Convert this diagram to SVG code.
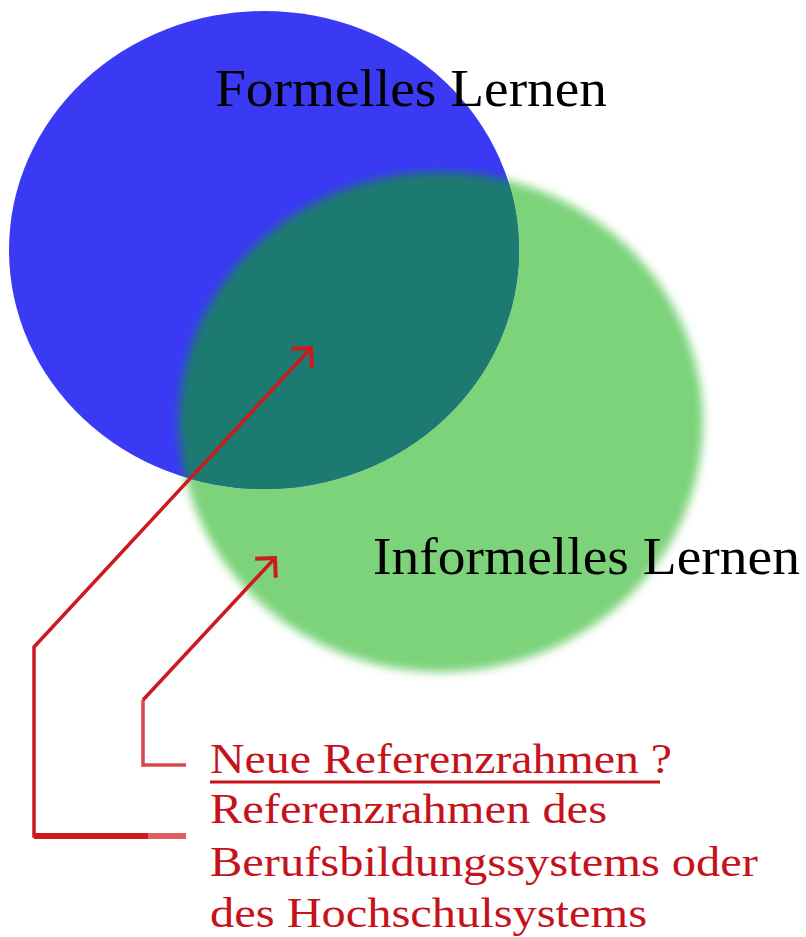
<svg xmlns="http://www.w3.org/2000/svg" width="806" height="937" viewBox="0 0 806 937">
  <style>
    .label { font-family: "Liberation Serif", "Times New Roman", serif; fill: #000000; font-size: 52px; }
    .caption { font-family: "Liberation Serif", "Times New Roman", serif; fill: #c5121b; font-size: 43px; }
    .conn { fill: none; stroke: #cc1a1f; stroke-width: 3.5; stroke-linejoin: miter; stroke-linecap: butt; }
    .conn-light { fill: none; stroke: #d9474c; stroke-width: 3.5; }
  </style>
  <defs>
    <filter id="soft" x="-10%" y="-10%" width="120%" height="120%">
      <feGaussianBlur stdDeviation="5"/>
    </filter>
    <clipPath id="blueClip">
      <ellipse cx="264" cy="250" rx="255" ry="239"/>
    </clipPath>
    <marker id="chev" markerUnits="userSpaceOnUse" markerWidth="40" markerHeight="40" refX="20" refY="20" orient="auto" viewBox="0 0 40 40">
      <path d="M6,6 L20,20 L6,34" fill="none" stroke="#cc1a1f" stroke-width="4" stroke-linejoin="miter"/>
    </marker>
  </defs>
  <rect x="0" y="0" width="806" height="937" fill="#ffffff"/>

  <g id="node-informelles">
    <ellipse cx="441" cy="422" rx="262" ry="250" fill="#7bd37a" filter="url(#soft)"/>
  </g>
  <g id="node-formelles">
    <ellipse cx="264" cy="250" rx="255" ry="239" fill="#3a3af5"/>
  </g>
  <g id="overlap">
    <g clip-path="url(#blueClip)">
      <ellipse cx="441" cy="422" rx="262" ry="250" fill="#1f7a70" filter="url(#soft)"/>
    </g>
  </g>
  <g id="label-formelles">
    <text class="label" x="215" y="106" textLength="392" lengthAdjust="spacingAndGlyphs">Formelles Lernen</text>
  </g>
  <g id="label-informelles">
    <text class="label" x="373" y="574" textLength="427" lengthAdjust="spacingAndGlyphs">Informelles Lernen</text>
  </g>

  <g id="connectors">
    <path class="conn" d="M186,836 L34,836 L34,647 L311,348" marker-end="url(#chev)" stroke-width="4"/>
    <line x1="34" y1="836" x2="148" y2="836" stroke="#cc1a1f" stroke-width="6"/>
    <line x1="148" y1="836" x2="186" y2="836" stroke="#dc6064" stroke-width="6"/>
    <path class="conn-light" d="M186,765 L143,765 L143,700"/>
    <path class="conn" d="M143,700 L275,558" marker-end="url(#chev)"/>
  </g>

  <g id="caption">
    <text class="caption" x="210" y="773" textLength="462" lengthAdjust="spacingAndGlyphs">Neue Referenzrahmen ?</text>
    <line x1="210" y1="782" x2="660" y2="782" stroke="#c5121b" stroke-width="3"/>
    <text class="caption" x="210" y="823" textLength="397" lengthAdjust="spacingAndGlyphs">Referenzrahmen des</text>
    <text class="caption" x="210" y="876" textLength="548" lengthAdjust="spacingAndGlyphs">Berufsbildungssystems oder</text>
    <text class="caption" x="210" y="927" textLength="437" lengthAdjust="spacingAndGlyphs">des Hochschulsystems</text>
  </g>
</svg>
